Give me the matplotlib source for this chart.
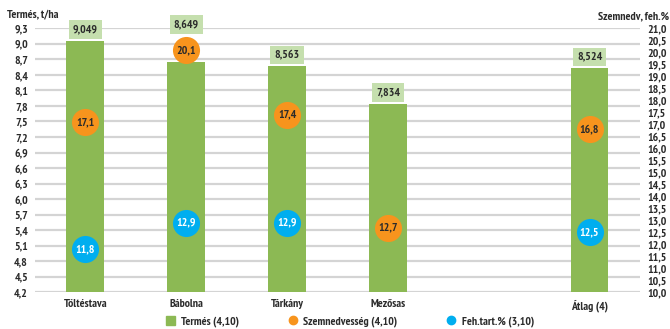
import matplotlib.pyplot as plt
import numpy as np
from matplotlib.lines import Line2D
from matplotlib.patches import Patch

plt.rcParams['font.family'] = ['PT Sans Narrow', 'DejaVu Sans']
plt.rcParams['font.weight'] = 'bold'

# -------------------------------
# adatok
# -------------------------------
helyek = ["Töltéstava", "Bábolna", "Tárkány", "Mezősas", "", "Átlag (4)"]
termes = [9.049, 8.649, 8.563, 7.834, None, 8.524]
szemnedv = [17.1, 20.1, 17.4, 12.7, None, 16.8]
feherje = [11.8, 12.9, 12.9, None, None, 12.5]

bal_tickek = np.round(np.arange(4.2, 9.31, 0.3), 1)
jobb_tickek = np.round(np.arange(10.0, 21.01, 0.5), 1)

ZOLD = "#8cb954"
ZOLD_VILAGOS = "#c5dfae"
NARANCS = "#f7941d"
KEK = "#00aeef"
SZOVEG = "#2b2b2b"
FS = 8.5


def hu(v, n):
    return f"{v:.{n}f}".replace(".", ",")


fig = plt.figure(figsize=(6.7, 3.29), dpi=100)
ax = fig.add_axes([0.0522, 0.1115, 0.9030, 0.8025])
ax2 = ax.twinx()

x = np.arange(len(helyek))

# -------------------------------
# oszlopok (termés)
# -------------------------------
for i, v in enumerate(termes):
    if v is None:
        continue
    ax.bar(x[i], v - 4.2, bottom=4.2, width=0.375, color=ZOLD, zorder=2)
    # ha a kör a felirat helyére esne, a feliratot feljebb tesszük
    emel = 27 if szemnedv[i] is not None and szemnedv[i] > 19.5 else 8.5
    ax.annotate(hu(v, 3), (x[i], v), xytext=(0, emel), textcoords="offset points",
                ha="center", va="center", fontsize=FS, color=SZOVEG, zorder=3,
                bbox=dict(boxstyle="square,pad=0.35", fc=ZOLD_VILAGOS, ec="none"),
                annotation_clip=False)

# -------------------------------
# körök (szemnedvesség, fehérje) a jobb tengelyen
# -------------------------------
for sor, szin, tszin in [(szemnedv, NARANCS, SZOVEG), (feherje, KEK, "white")]:
    for i, v in enumerate(sor):
        if v is None:
            continue
        ax2.plot(x[i], v, "o", ms=19.5, color=szin, mec="none", zorder=4)
        ax2.text(x[i], v, hu(v, 1), ha="center", va="center", fontsize=FS,
                 color=tszin, zorder=5)

ax.set_xlim(-0.5, 5.5)
ax.set_ylim(4.2, 9.3)
ax2.set_ylim(10.0, 21.0)

ax.set_yticks(bal_tickek)
ax.set_yticklabels([hu(t, 1) for t in bal_tickek], fontsize=FS, color=SZOVEG)
ax2.set_yticks(jobb_tickek)
ax2.set_yticklabels([hu(t, 1) for t in jobb_tickek], fontsize=FS, color=SZOVEG)
ax.set_xticks(x)
ax.set_xticklabels(helyek, fontsize=FS, color=SZOVEG)

ax.grid(axis="y", color="#d4d4d4", linewidth=1.6, zorder=0)
ax.set_axisbelow(True)
for a in (ax, ax2):
    for s in a.spines.values():
        s.set_visible(False)
ax.tick_params(length=0, pad=5)
ax.tick_params(axis="x", pad=5)
ax2.tick_params(length=0, pad=5)

fig.text(0.010, 0.955, "Termés, t/ha", fontsize=FS, color=SZOVEG, ha="left", va="center")
fig.text(0.998, 0.950, "Szemnedv, feh.%", fontsize=FS, color=SZOVEG, ha="right", va="center")

# -------------------------------
# jelmagyarázat
# -------------------------------
kezek = [
    Patch(color=ZOLD),
    Line2D([], [], marker="o", ls="none", color=NARANCS, ms=6),
    Line2D([], [], marker="o", ls="none", color=KEK, ms=6),
]
fig.legend(kezek, ["Termés (4,10)", "Szemnedvesség (4,10)", "Feh.tart.% (3,10)"],
           loc="center", bbox_to_anchor=(0.522, 0.022), ncol=3, frameon=False,
           fontsize=FS, columnspacing=4.15, handlelength=0.8, handleheight=0.8,
           handletextpad=0.5, labelcolor=SZOVEG)

fig.savefig("out.png", dpi=100)
